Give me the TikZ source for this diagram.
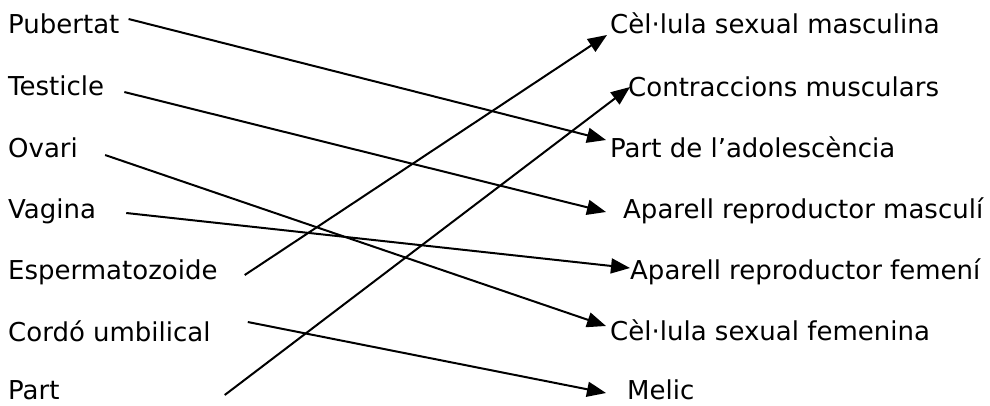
\documentclass[tikz,border=0pt]{standalone}
\usepackage{fontspec}
\setmainfont{DejaVu Sans}
\usetikzlibrary{arrows.meta}

\begin{document}
\begin{tikzpicture}[x=1pt, y=-1pt,
    every node/.append style={font=\fontsize{26}{30}\selectfont, inner sep=0pt, anchor=west, text height=18pt, text depth=5pt},
    link/.style={line width=2pt, -{Triangle[length=19pt,width=15pt]}}]
    \useasboundingbox (0,0) rectangle (990,405);

    % left column
    \node (pub) at (8,26.5) {Pubertat};
    \node (tes) at (8,88.5) {Testicle};
    \node (ova) at (8,150.5) {Ovari};
    \node (vag) at (8,211.5) {Vagina};
    \node (esp) at (8,272.5) {Espermatozoide};
    \node (cor) at (8,334.5) {Cordó umbilical};
    \node (par) at (8,393) {Part};

    % right column
    \node (masc) at (610,26.5) {Cèl·lula sexual masculina};
    \node (cont) at (628,89.5) {Contraccions musculars};
    \node (adol) at (610,150.5) {Part de l’adolescència};
    \node (apm) at (623,211.5) {Aparell reproductor masculí};
    \node (apf) at (630,272.5) {Aparell reproductor femení};
    \node (fem) at (610,333.5) {Cèl·lula sexual femenina};
    \node (mel) at (627,393) {Melic};

    \draw[link] ([xshift=9pt,yshift=7.5pt]pub.east) -- ([xshift=-4pt,yshift=10.5pt]adol.west);
    \draw[link] ([xshift=20pt,yshift=-3.5pt]tes.east) -- ([xshift=-17pt,yshift=-0.5pt]apm.west);
    \draw[link] ([xshift=27pt,yshift=-4.5pt]ova.east) -- ([xshift=-4pt,yshift=7.5pt]fem.west);
    \draw[link] ([xshift=30pt,yshift=-1.5pt]vag.east) -- ([yshift=4.5pt]apf.west);
    \draw[link] ([xshift=27pt,yshift=-2.5pt]esp.east) -- ([xshift=-3pt,yshift=-8.5pt]masc.west);
    \draw[link] ([xshift=37pt,yshift=12.5pt]cor.east) -- ([xshift=-21pt,yshift=0pt]mel.west);
    \draw[link] ([xshift=165pt,yshift=-2pt]par.east) -- ([xshift=2pt,yshift=2.5pt]cont.west);
\end{tikzpicture}
\end{document}
